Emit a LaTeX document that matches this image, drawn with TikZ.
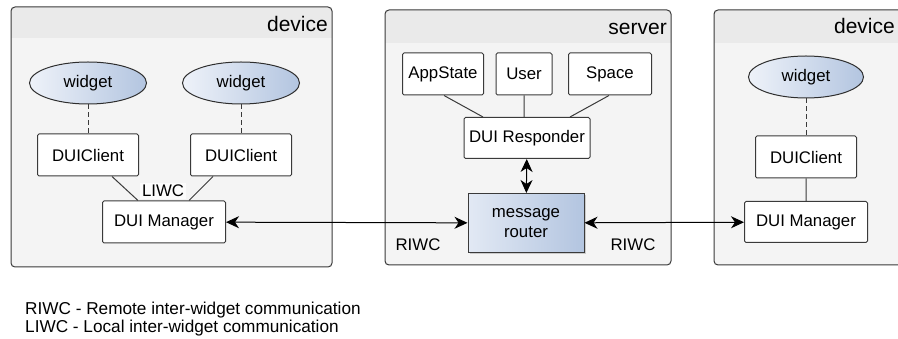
\documentclass[tikz,border=0pt]{standalone}
\usepackage{fontspec}
\setmainfont{Liberation Sans}
\usetikzlibrary{arrows.meta, shapes.geometric, shadows}

\definecolor{panelfill}{HTML}{F4F4F4}
\definecolor{panelhead}{HTML}{EAEAEA}
\definecolor{panelline}{HTML}{3A3A3A}
\definecolor{bluelight}{HTML}{EEF2F9}
\definecolor{bluedark}{HTML}{B3C5E0}

\begin{document}
\begin{tikzpicture}[
x=1pt, y=-1pt,
font=\fontsize{16.8}{20}\selectfont,
panel/.style={
draw=panelline,
line width=1pt,
rounded corners=4pt,
},
paneltitle/.style={
anchor=base east,
inner sep=0 pt,
font=\fontsize{21}{24}\selectfont,
},
unit/.style={
rectangle,
draw=panelline,
fill=white,
line width=1pt,
rounded corners=1.5pt,
inner sep=0 pt,
minimum height=42pt,
},
widget/.style={
ellipse,
draw=panelline!80!black,
line width=1pt,
left color=bluelight,
right color=bluedark,
minimum width=117pt,
minimum height=42pt,
inner sep=0 pt,
},
link/.style={draw=panelline, line width=1pt},
biarrow/.style={
draw=black,
line width=1pt,
{Stealth[length=13pt, width=12pt, inset=4pt]}-{Stealth[length=13pt, width=12pt, inset=4pt]},
},
]

\clip (0,0) rectangle (898,339);
\useasboundingbox (0,0) rectangle (898,339);

% panels with their title bands
\fill[panelfill, rounded corners=4pt] (11,7) rectangle (332,267);
\fill[panelfill, rounded corners=4pt] (385,10) rectangle (671,265);
\fill[panelfill, rounded corners=4pt] (714,10) rectangle (930,265);
\begin{scope}
\clip[rounded corners=4pt] (11,7) rectangle (332,267);
\fill[panelhead] (11,7) rectangle (332,38);
\end{scope}
\begin{scope}
\clip[rounded corners=4pt] (385,10) rectangle (671,265);
\fill[panelhead] (385,10) rectangle (671,43);
\end{scope}
\begin{scope}
\clip[rounded corners=4pt] (714,10) rectangle (930,265);
\fill[panelhead] (714,10) rectangle (930,43);
\end{scope}
\draw[panel] (11,7) rectangle (332,267);
\draw[panel] (385,10) rectangle (671,265);
\draw[panel] (714,10) rectangle (930,265);

\node [paneltitle] at (328,32) (devleft) {device};
\node [paneltitle] at (667,35) (server) {server};
\node [paneltitle] at (895,34) (devright) {device};

% left device
\node [widget] at (88,83) (w1) {widget};
\node [widget] at (241,83) (w2) {widget};
\node [unit, minimum width=101pt] at (88,155) (c1) {DUIClient};
\node [unit, minimum width=101pt] at (241,155) (c2) {DUIClient};
\node [unit, minimum width=123pt] at (164,222) (m1) {DUI Manager};

% server
\node [unit, minimum width=81pt] at (443,74) (appstate) {AppState};
\node [unit, minimum width=56pt] at (524,74) (user) {User};
\node [unit, minimum width=83pt] at (610,74) (space) {Space};
\node [unit, minimum width=126pt, minimum height=41pt] at (527,138) (responder) {DUI Responder};
\node [rectangle, draw=panelline, line width=1pt, align=center,
left color=bluelight!80!bluedark, right color=bluedark,
minimum width=116pt, minimum height=59pt, inner sep=0 pt,
drop shadow={shadow xshift=2pt, shadow yshift=-2pt, opacity=0.35}]
at (526,223) (router) {message\\router};

% right device
\node [widget, minimum width=115pt] at (806,77) (w3) {widget};
\node [unit, minimum width=101pt] at (806,157) (c3) {DUIClient};
\node [unit, minimum width=123pt, minimum height=41pt] at (806,222) (m3) {DUI Manager};

% local links
\draw[link, dashed, dash pattern=on 5pt off 3pt]
(w1) -- (c1)
(w2) -- (c2)
(w3) -- (c3)
;
\draw[link]
([xshift=24pt]c1.south) -- ([xshift=-26pt]m1.north)
([xshift=-28pt]c2.south) -- ([xshift=25pt]m1.north)
(c3) -- (m3)
([xshift=1pt]appstate.south) -- ([xshift=-44pt]responder.north)
(user.south) -- (user.south |- responder.north)
([xshift=-1pt]space.south) -- ([xshift=43pt]responder.north)
;

\node [fill=panelfill!30!white, inner sep=2pt] at (163,191) (liwc) {LIWC};

% remote links
\draw[biarrow] (m1) -- (router);
\draw[biarrow] (router) -- (m3);
\draw[biarrow] (responder) -- (router);

\node at (418,245) (riwcleft) {RIWC};
\node at (633,245) (riwcright) {RIWC};

% legend
\node [anchor=base west, inner sep=0 pt, font=\fontsize{17.2}{20}\selectfont]
at (25,315) (legend1) {RIWC - Remote inter-widget communication};
\node [anchor=base west, inner sep=0 pt, font=\fontsize{17.2}{20}\selectfont]
at (25,333) (legend2) {LIWC - Local inter-widget communication};

\end{tikzpicture}
\end{document}
